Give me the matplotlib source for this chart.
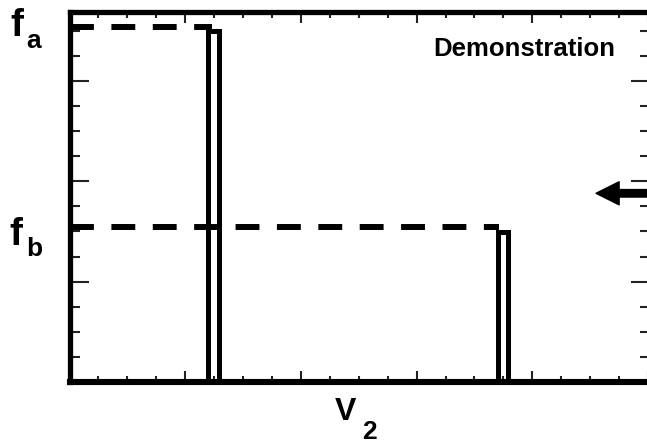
"""
Two narrow peaks at f_a and f_b along v_2, with dashed level markers
"""

import matplotlib
matplotlib.use("Agg")
import matplotlib.pyplot as plt
from matplotlib.ticker import MultipleLocator

plt.rcParams['font.family'] = ['Liberation Sans', 'DejaVu Sans']

# peak outlines (x in v_2 units, y in f units)
peak_left = [1.193, 3.705]
peak_right = [1.294, 3.794]
peak_top = [3.507, 1.497]

# dashed levels f_a, f_b and where they stop
level_y = [3.548, 1.545]
level_end = [1.229, 3.712]
level_sub = ['a', 'b']

# arrow on the right edge
arrow_tip = (4.551, 1.882)
arrow_tail = (5.12, 1.882)

W, H = 647, 443
fig = plt.figure(figsize=(W / 100, H / 100), dpi=100)

x0, x1, y0, y1 = 69.5, 650.0, 381.5, 12.5  # spine positions in pixels
ax = fig.add_axes([x0 / W, (H - y0) / H, (x1 - x0) / W, (y0 - y1) / H])
ax.set_xlim(0, (x1 - x0) / 115.7)
ax.set_ylim(0, (y0 - y1) / 100)

for s in ax.spines.values():
    s.set_linewidth(3.8)
ax.spines['bottom'].set_linewidth(4.4)

ax.xaxis.set_major_locator(MultipleLocator(1))
ax.xaxis.set_minor_locator(MultipleLocator(0.25))
ax.yaxis.set_major_locator(MultipleLocator(1))
ax.yaxis.set_minor_locator(MultipleLocator(0.25))
ax.tick_params(which='both', direction='in', top=True, right=True,
               labelbottom=False, labelleft=False, width=1.5, color='#222222')
ax.tick_params(axis='x', which='major', length=8)
ax.tick_params(axis='x', which='minor', length=4)
ax.tick_params(axis='y', which='major', length=13.5)
ax.tick_params(axis='y', which='minor', length=7.5)

# peaks
for xl, xr, top in zip(peak_left, peak_right, peak_top):
    ax.bar(xl, top, width=xr - xl, align='edge', fill=False,
           edgecolor='black', linewidth=3.6, zorder=3)

# dashed levels
for y, xe in zip(level_y, level_end):
    ax.plot([0, xe], [y, y], color='black', linewidth=4.3,
            dashes=(4.0, 2.93), solid_capstyle='butt', zorder=4)

# arrow
ax.annotate('', xy=arrow_tip, xytext=arrow_tail, annotation_clip=False,
            arrowprops=dict(arrowstyle='simple,head_length=16.6,head_width=16.6,tail_width=5.4',
                            mutation_scale=1, color='black', shrinkA=0, shrinkB=0))

# labels (pixel positions from the top-left corner)
def put(px, py, s, size):
    fig.text(px / W, 1 - py / H, s, fontsize=size, fontweight='bold',
             ha='left', va='baseline')

put(10, 36, 'f', 28)
put(26, 48, level_sub[0], 19)
put(9, 245, 'f', 28)
put(26, 256, level_sub[1], 19)
put(433, 56, 'Demonstration', 18.5)
put(335, 420, 'V', 23)
put(362, 439, '2', 19)

fig.savefig('out.png', dpi=100)
